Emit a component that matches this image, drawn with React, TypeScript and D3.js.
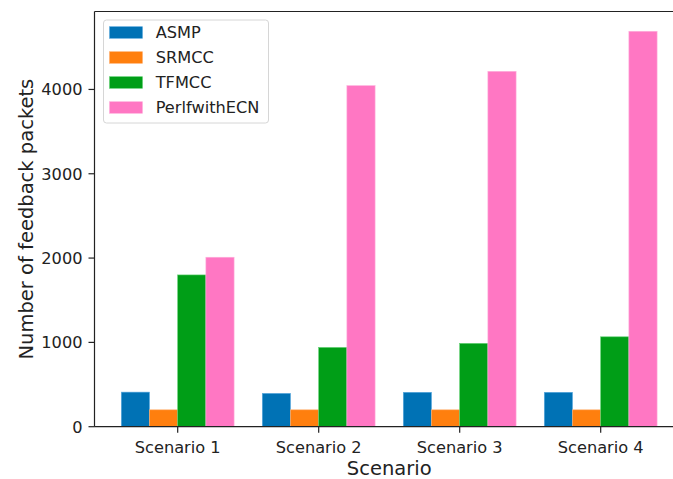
import React from "react";
import * as d3 from "d3";

const categories = ["Scenario 1", "Scenario 2", "Scenario 3", "Scenario 4"];
const seriesNames = ["ASMP", "SRMCC", "TFMCC", "PerlfwithECN"];
const asmp = [410, 395, 408, 408];
const srmcc = [200, 200, 200, 200];
const tfmcc = [1800, 940, 988, 1066];
const perlf = [2010, 4045, 4215, 4690];
const yTicks = [0, 1000, 2000, 3000, 4000];
const colors = ["#0072b5", "#ff7f0e", "#009e17", "#ff77c3"];
const edgeColors = ["#5aa8de", "#ffb070", "#5ed070", "#ffb0dc"];

const W = 673;
const H = 479;
const FONT = "DejaVu Sans, Verdana, sans-serif";

export default function App() {
  const series = [asmp, srmcc, tfmcc, perlf];
  const left = 94.5;
  const bottom = 426.7;
  const top = 11.5;
  const pxPerUnit = 141;
  const xMin = -0.59;
  const xMax = categories.length - 1 + 0.59;
  const right = left + (xMax - xMin) * pxPerUnit;
  const x = d3.scaleLinear().domain([xMin, xMax]).range([left, right]);
  const yMax = d3.max(series.flat())! * 1.05;
  const y = d3.scaleLinear().domain([0, yMax]).range([bottom, top]);
  const bw = 0.2;

  return (
    <div style={{ position: "absolute", left: 0, top: 0 }}>
      <svg width={W} height={H} style={{ display: "block", background: "#fff" }} fontFamily={FONT}>
        <rect x={0} y={0} width={W} height={H} fill="#fff" />
        {series.map((vals, si) =>
          vals.map((v, ci) => {
            const x0 = x(ci - 0.4 + si * bw);
            const x1 = x(ci - 0.4 + (si + 1) * bw);
            return (
              <rect
                key={`${si}-${ci}`}
                x={x0}
                y={y(v)}
                width={x1 - x0}
                height={y(0) - y(v)}
                fill={colors[si]}
                stroke={edgeColors[si]}
                strokeWidth={0.6}
              />
            );
          })
        )}
        {/* spines */}
        <line x1={left} x2={left} y1={top} y2={bottom} stroke="#222" strokeWidth={1.2} />
        <line x1={left} x2={right} y1={bottom} y2={bottom} stroke="#222" strokeWidth={1.2} />
        <line x1={left} x2={right} y1={top} y2={top} stroke="#222" strokeWidth={1.2} />
        <line x1={right} x2={right} y1={top} y2={bottom} stroke="#222" strokeWidth={1.2} />
        {/* y ticks */}
        {yTicks.map((t) => (
          <g key={t}>
            <line x1={left - 6} x2={left} y1={y(t)} y2={y(t)} stroke="#222" strokeWidth={1.2} />
            <text x={left - 12} y={y(t)} dy="0.36em" textAnchor="end" fontSize={16.2} fill="#222">
              {t}
            </text>
          </g>
        ))}
        {/* x ticks */}
        {categories.map((c, i) => (
          <g key={c}>
            <line x1={x(i)} x2={x(i)} y1={bottom} y2={bottom + 6} stroke="#222" strokeWidth={1.2} />
            <text x={x(i)} y={452.5} textAnchor="middle" fontSize={16.2} fill="#222">
              {c}
            </text>
          </g>
        ))}
        <text x={(left + right) / 2} y={475} textAnchor="middle" fontSize={19.5} fill="#222">
          Scenario
        </text>
        <text
          transform={`translate(33, ${(top + bottom) / 2}) rotate(-90)`}
          textAnchor="middle"
          fontSize={19.5}
          fill="#222"
        >
          Number of feedback packets
        </text>
        {/* legend */}
        <rect x={103.5} y={20} width={165} height={103} rx={3} fill="#fff" fillOpacity={0.8} stroke="#d6d6d6" strokeWidth={1} />
        {seriesNames.map((n, i) => (
          <g key={n}>
            <rect x={109.5} y={26.7 + i * 25} width={33} height={11.6} fill={colors[i]} stroke={edgeColors[i]} strokeWidth={0.6} />
            <text x={155.7} y={32.5 + i * 25} dy="0.36em" fontSize={16.2} fill="#222">
              {n}
            </text>
          </g>
        ))}
      </svg>
    </div>
  );
}
